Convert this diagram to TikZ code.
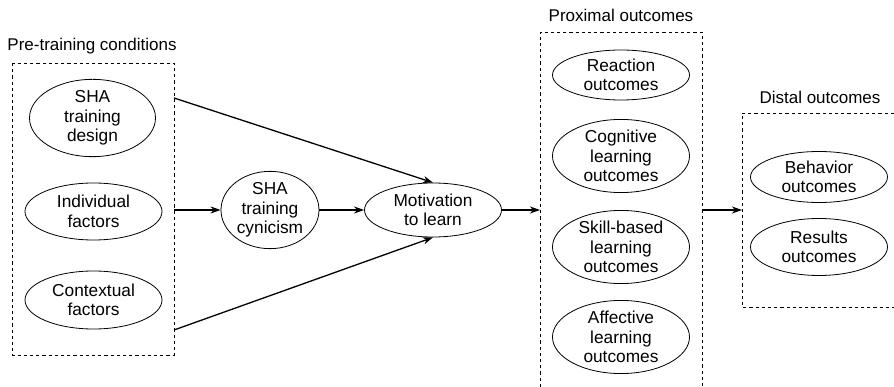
\documentclass[tikz,border=0pt]{standalone}
\usepackage{fontspec}
\setmainfont{Liberation Sans}
\usetikzlibrary{shapes.geometric,arrows.meta}
\begin{document}
\begin{tikzpicture}[x=1pt,y=-1pt,
  oval/.style={draw,ellipse,line width=0.8pt,inner sep=0pt,align=center,
    font=\fontsize{17.3}{19.5}\selectfont},
  dbox/.style={draw,line width=0.8pt,dash pattern=on 3.2pt off 3pt},
  arr/.style={line width=1.3pt,-{Stealth[length=10pt,width=7pt,inset=3pt]}},
  lbl/.style={font=\fontsize{17}{19}\selectfont,inner sep=0pt}]
\useasboundingbox (0,0) rectangle (894,387);
% boxes
\draw[dbox] (12,63) rectangle (174,355);
\draw[dbox] (540,387) -- (540,32) -- (702,32) -- (702,387);
\draw[dbox] (894,113) -- (742,113) -- (742,307) -- (894,307);
% labels
\node[lbl] (lpre) at (92,46) {Pre-training conditions};
\node[lbl] (lprox) at (621,15) {Proximal outcomes};
\node[lbl] (ldist) at (820,97) {Distal outcomes};
% nodes
\node[oval,minimum width=126,minimum height=67] (design) at (92.5,118) {SHA\\training\\design};
\node[oval,minimum width=137,minimum height=57] (indiv) at (93.5,211.5) {Individual\\factors};
\node[oval,minimum width=137,minimum height=58] (context) at (93.5,300) {Contextual\\factors};
\node[oval,minimum width=98,minimum height=68] (cyn) at (270,210) {SHA\\training\\cynicism};
\node[oval,minimum width=137,minimum height=54] (mot) at (433,210) {Motivation\\to learn};
\node[oval,minimum width=137,minimum height=50] (react) at (621,75) {Reaction\\outcomes};
\node[oval,minimum width=137,minimum height=67] (cog) at (621,156) {Cognitive\\learning\\outcomes};
\node[oval,minimum width=137,minimum height=67] (skill) at (621,247) {Skill-based\\learning\\outcomes};
\node[oval,minimum width=137,minimum height=65] (aff) at (621,337) {Affective\\learning\\outcomes};
\node[oval,minimum width=137,minimum height=51] (beh) at (819,177) {Behavior\\outcomes};
\node[oval,minimum width=137,minimum height=57] (res) at (819,247) {Results\\outcomes};
% connector ends on box edges
\coordinate (pa) at (174,98);
\coordinate (pb) at (174,210);
\coordinate (pc) at (174,330);
\coordinate (proxin) at (540,210);
\coordinate (proxout) at (702,210);
\coordinate (distin) at (742,210);
% connectors
\draw[arr] (pa) -- (mot.north);
\draw[arr] (pc) -- (mot.south);
\draw[arr] (pb) -- (cyn.west);
\draw[arr] (cyn.east) -- (mot.west);
\draw[arr] (mot.east) -- (proxin);
\draw[arr] (proxout) -- (distin);
\end{tikzpicture}
\end{document}
